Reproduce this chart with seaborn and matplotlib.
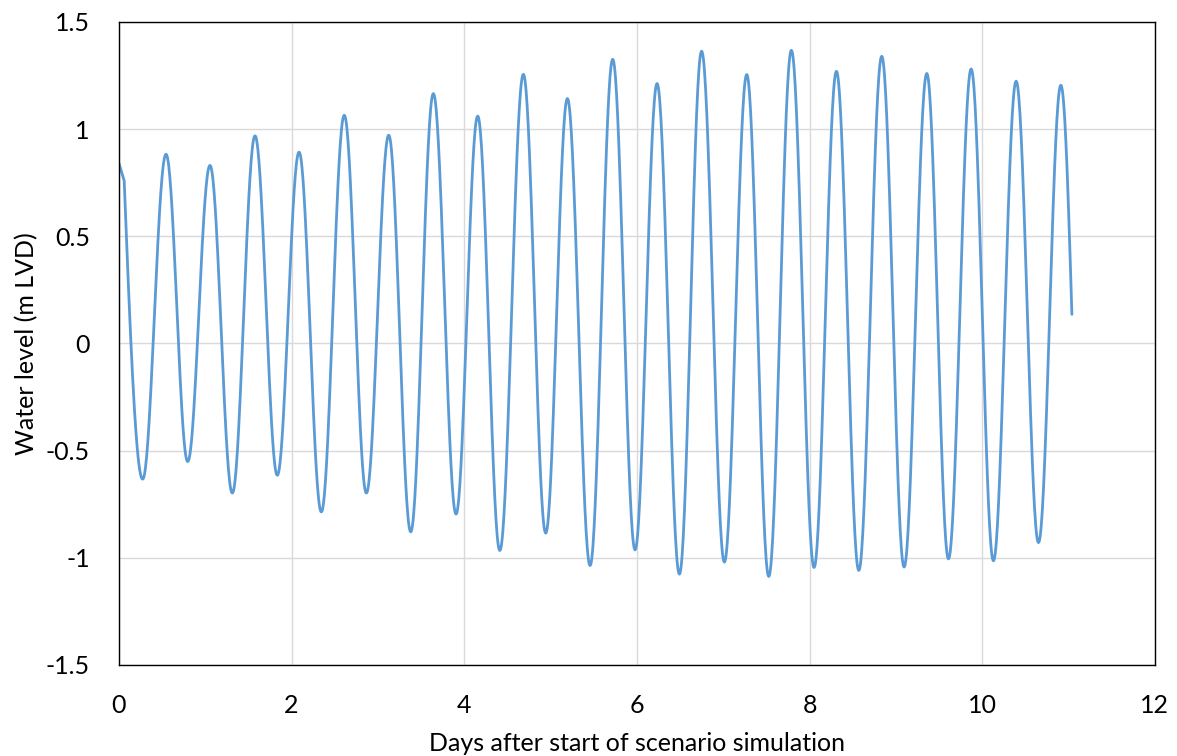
import numpy as np
import pandas as pd
import matplotlib
matplotlib.use("Agg")
import matplotlib.pyplot as plt
import seaborn as sns

# Turning points of the water level series (days, m LVD)
time_days = [0.0, 0.06, 0.274, 0.545, 0.796, 1.054, 1.313, 1.576, 1.834, 2.086,
             2.344, 2.61, 2.866, 3.125, 3.38, 3.642, 3.905, 4.156, 4.412, 4.685,
             4.944, 5.195, 5.458, 5.72, 5.979, 6.234, 6.493, 6.75, 7.014, 7.273,
             7.528, 7.79, 8.053, 8.312, 8.571, 8.837, 9.096, 9.359, 9.61, 9.873,
             10.131, 10.394, 10.653, 10.912, 11.04]
level_m = [0.84, 0.76, -0.633, 0.883, -0.551, 0.831, -0.698, 0.969, -0.615, 0.893,
           -0.786, 1.065, -0.698, 0.972, -0.879, 1.166, -0.796, 1.061, -0.966, 1.256,
           -0.885, 1.143, -1.036, 1.326, -0.963, 1.213, -1.076, 1.364, -1.02, 1.255,
           -1.087, 1.368, -1.045, 1.27, -1.059, 1.34, -1.043, 1.26, -1.005, 1.281,
           -1.014, 1.224, -0.929, 1.205, 0.136]

x_ticks = [0, 2, 4, 6, 8, 10, 12]
y_ticks = [-1.5, -1, -0.5, 0, 0.5, 1, 1.5]
x_label = "Days after start of scenario simulation"
y_label = "Water level (m LVD)"

# Smooth rendering of the curve between the read turning points
xs, ys = [], []
n = len(time_days)
for i in range(n - 1):
    t0, t1 = time_days[i], time_days[i + 1]
    v0, v1 = level_m[i], level_m[i + 1]
    f = np.linspace(0, 1, 40, endpoint=(i == n - 2))
    if i == 0:
        shape = f
    elif i == 1:
        shape = np.sin(np.pi / 2 * f)
    elif i == n - 2:
        shape = 1 - np.cos(np.pi / 2 * f)
    else:
        shape = (1 - np.cos(np.pi * f)) / 2
    xs.extend(t0 + (t1 - t0) * f)
    ys.extend(v0 + (v1 - v0) * shape)

df = pd.DataFrame({"t": xs, "v": ys})

sns.set_theme(style="white")
plt.rcParams["font.family"] = ["Lato", "DejaVu Sans"]

fig = plt.figure(figsize=(11.77, 7.56), dpi=100)
ax = fig.add_axes([0.1011, 0.1204, 0.8800, 0.8505])

sns.lineplot(data=df, x="t", y="v", ax=ax, color="#5B9BD5", linewidth=2.0,
             sort=False, estimator=None)

ax.set_xlim(0, 12)
ax.set_ylim(-1.5, 1.5)
ax.set_xticks(x_ticks)
ax.set_xticklabels([str(v) for v in x_ticks])
ax.set_yticks(y_ticks)
ax.set_yticklabels(["-1.5", "-1", "-0.5", "0", "0.5", "1", "1.5"])
ax.grid(True, color="#D9D9D9", linewidth=1.0)
ax.set_axisbelow(True)
for s in ax.spines.values():
    s.set_visible(True)
    s.set_color("black")
    s.set_linewidth(1.0)
ax.tick_params(axis="both", length=0, labelsize=18, colors="black")
ax.tick_params(axis="x", pad=21)
ax.tick_params(axis="y", pad=21)
ax.set_xlabel(x_label, fontsize=18, color="black", labelpad=11)
ax.set_ylabel(y_label, fontsize=18, color="black", labelpad=5)

fig.savefig("out.png", dpi=100)
